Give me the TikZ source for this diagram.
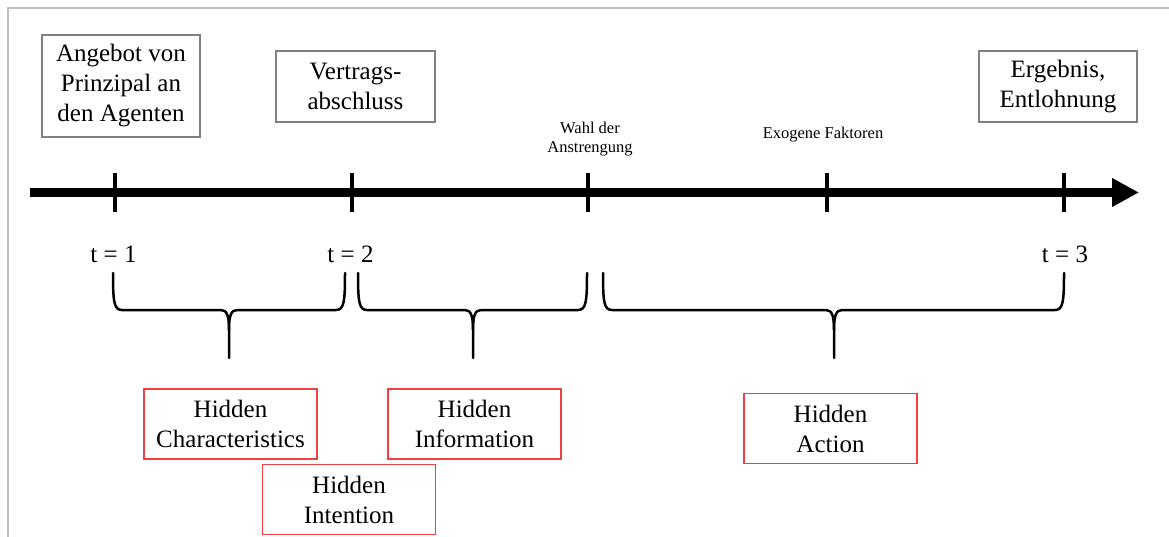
\documentclass[tikz,border=0pt]{standalone}
\usepackage{fontspec}
\setmainfont{Liberation Serif}
\usepackage{xcolor}
\usetikzlibrary{positioning,arrows.meta}
\definecolor{boxgray}{RGB}{128,128,128}
\definecolor{hiddenred}{RGB}{240,64,64}
\definecolor{framegray}{RGB}{192,192,192}
\tikzset{
  eventbox/.style={draw=boxgray, line width=1.5pt, align=center, inner sep=0pt,
    font=\fontsize{25}{30}\selectfont},
  hiddenbox/.style={draw=hiddenred, line width=1.5pt, align=center, inner sep=0pt,
    minimum width=173pt, minimum height=70pt, font=\fontsize{25}{30}\selectfont},
  smalllabel/.style={align=center, inner sep=0pt, font=\fontsize{16.5}{19}\selectfont},
  tlabel/.style={inner sep=0pt, font=\fontsize{25}{30}\selectfont},
  timetick/.style={line width=4pt},
  bracepart/.style={line width=2.5pt, line cap=round}
}
% curly brace under the axis: left end, middle, right end
\newcommand{\timebrace}[3]{%
  \draw[bracepart] (#1,273) .. controls (#1,302) and ({#1+1},310) .. ({#1+9},310)
    -- ({#2-8},310) .. controls ({#2-2},310) and (#2,316) .. (#2,330) -- (#2,358);
  \draw[bracepart] (#3,273) .. controls (#3,302) and ({#3-1},310) .. ({#3-9},310)
    -- ({#2+8},310) .. controls ({#2+2},310) and (#2,316) .. (#2,330);
}

\begin{document}
\begin{tikzpicture}[x=1pt,y=-1pt]
    \useasboundingbox (0,0) rectangle (1169,537);
    \draw[framegray, line width=1.5pt] (8,537) -- (8,8) -- (1169,8);

    % time axis
    \draw[line width=9pt, -{Triangle[length=27pt,width=27pt]}] (30,192.5) -- (1139,192.5);
    \foreach \x in {115,352,588,827,1064}
        \draw[timetick] (\x,173) -- (\x,212);

    % events above the axis
    \node[eventbox, minimum width=158pt, minimum height=102pt] (angebot) at (121,86)
        {Angebot von\\Prinzipal an\\den Agenten};
    \node[eventbox, minimum width=159pt, minimum height=71pt] (vertrag) at (355.5,86.5)
        {Vertrags-\\abschluss};
    \node[eventbox, minimum width=158pt, minimum height=71pt] (ergebnis) at (1058,86.5)
        {Ergebnis,\\Entlohnung};
    \node[smalllabel] (wahl) at (590,139) {Wahl der\\Anstrengung};
    \node[smalllabel] (exogen) at (823,135) {Exogene Faktoren};

    % points in time
    \node[tlabel] (t1) at (113.5,254) {t = 1};
    \node[tlabel] (t2) at (350.5,254) {t = 2};
    \node[tlabel] (t3) at (1065,254) {t = 3};

    \timebrace{113}{229}{345}
    \timebrace{358}{473}{587}
    \timebrace{603}{834}{1064}

    % information problems
    \node[hiddenbox] (hchar) at (230.5,424) {Hidden\\Characteristics};
    \node[hiddenbox] (hinfo) at (474.5,424) {Hidden\\Information};
    \node[hiddenbox] (hint) at (349,499.5) {Hidden\\Intention};
    \node[hiddenbox] (hact) at (830.5,428.5) {Hidden\\Action};
\end{tikzpicture}
\end{document}
